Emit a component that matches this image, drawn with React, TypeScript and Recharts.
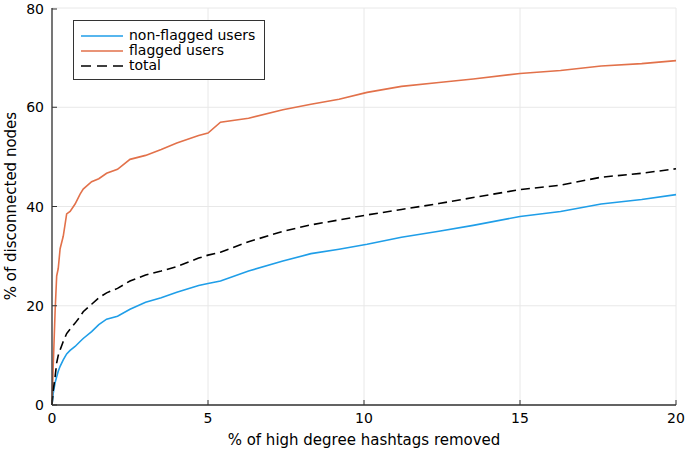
import React from 'react';
import { LineChart, Line, XAxis, YAxis, CartesianGrid } from 'recharts';

const hashtagsRemoved = [0, 0.04, 0.1, 0.15, 0.2, 0.26, 0.36, 0.47, 0.58, 0.74, 0.9, 1.0, 1.27, 1.5, 1.75, 2.1, 2.5, 3.0, 3.5, 4.0, 4.7, 5.0, 5.4, 6.3, 7.4, 8.3, 9.2, 10.1, 11.2, 12.4, 13.5, 15.0, 16.3, 17.6, 18.9, 20];
const nonFlagged = [0, 2.4, 4.5, 5.7, 6.8, 7.8, 9.1, 10.3, 11.0, 11.8, 12.8, 13.4, 14.8, 16.2, 17.3, 17.9, 19.3, 20.7, 21.6, 22.7, 24.1, 24.5, 25.0, 27.0, 29.0, 30.5, 31.4, 32.4, 33.8, 35.0, 36.2, 38.0, 39.0, 40.5, 41.4, 42.4];
const flagged = [0, 8, 19, 26, 27.5, 31.5, 34, 38.5, 39, 40.5, 42.5, 43.5, 45, 45.6, 46.7, 47.5, 49.5, 50.3, 51.5, 52.8, 54.3, 54.8, 57.0, 57.8, 59.5, 60.6, 61.6, 63.0, 64.2, 65.0, 65.7, 66.8, 67.4, 68.3, 68.8, 69.4];
const total = [0, 3, 5.7, 8.5, 10, 11.1, 12.8, 14.4, 15.3, 16.5, 17.8, 18.8, 20.3, 21.6, 22.6, 23.5, 25.0, 26.2, 27.0, 27.9, 29.6, 30.2, 30.8, 32.9, 35.0, 36.3, 37.3, 38.3, 39.4, 40.6, 41.8, 43.4, 44.3, 45.9, 46.7, 47.6];

const xTicks = [0, 5, 10, 15, 20];
const yTicks = [0, 20, 40, 60, 80];

const series = [
  { key: 'nonFlagged', name: 'non-flagged users', color: '#1f9ee8', dash: undefined },
  { key: 'flagged', name: 'flagged users', color: '#e2714a', dash: undefined },
  { key: 'total', name: 'total', color: '#000000', dash: '9 5' },
];

const data = hashtagsRemoved.map((x, i) => ({
  x,
  nonFlagged: nonFlagged[i],
  flagged: flagged[i],
  total: total[i],
}));

const FONT = 'DejaVu Sans, sans-serif';
const AXIS = '#333333';

const XTick = (props: any) => {
  const { x, y, payload } = props;
  const axisY = y - 8;
  return (
    <g>
      <line x1={x} x2={x} y1={axisY} y2={axisY - 5} stroke={AXIS} strokeWidth={1} />
      <text x={x} y={axisY + 18} textAnchor="middle" fontSize={14} fontFamily={FONT} fill="#000">
        {payload.value}
      </text>
    </g>
  );
};

const YTick = (props: any) => {
  const { x, y, payload } = props;
  const axisX = x + 8;
  return (
    <g>
      <line x1={axisX} x2={axisX + 5} y1={y} y2={y} stroke={AXIS} strokeWidth={1} />
      <text x={axisX - 8} y={y + 5} textAnchor="end" fontSize={14} fontFamily={FONT} fill="#000">
        {payload.value}
      </text>
    </g>
  );
};

// legend drawn as an overlay box in the upper left of the plot
const LegendBox = () => (
  <div
    style={{
      position: 'absolute',
      left: 73,
      top: 20,
      width: 192,
      height: 60,
      boxSizing: 'border-box',
      border: `1.3px solid ${AXIS}`,
      background: '#fff',
      padding: '7px 0 0 7px',
      fontFamily: FONT,
      fontSize: 14,
    }}
  >
    {series.map((s) => (
      <div key={s.key} style={{ display: 'flex', alignItems: 'center', height: 15 }}>
        <svg width={42} height={4} style={{ marginRight: 6 }}>
          <line x1={0} x2={42} y1={2} y2={2} stroke={s.color} strokeWidth={1.6} strokeDasharray={s.dash ? '10 6' : undefined} />
        </svg>
        <span style={{ lineHeight: '15px', color: '#000' }}>{s.name}</span>
      </div>
    ))}
  </div>
);

export default function App() {
  return (
    <div style={{ position: 'absolute', left: 0, top: 0, width: 685, height: 450, background: '#fff' }}>
      <LineChart width={685} height={450} data={data} margin={{ top: 8, right: 9, bottom: 0, left: 0 }}>
        <CartesianGrid stroke="#e8e8e8" strokeWidth={1} />
        <XAxis
          dataKey="x"
          type="number"
          domain={[0, 20]}
          ticks={xTicks}
          height={45}
          tickSize={0}
          tickMargin={8}
          tickLine={false}
          axisLine={{ stroke: AXIS, strokeWidth: 1.3 }}
          tick={<XTick />}
          label={() => (
            <text x={364} y={445} textAnchor="middle" fontSize={15} fontFamily={FONT} fill="#000">
              % of high degree hashtags removed
            </text>
          )}
        />
        <YAxis
          type="number"
          domain={[0, 80]}
          ticks={yTicks}
          width={52}
          tickSize={0}
          tickMargin={8}
          tickLine={false}
          axisLine={{ stroke: AXIS, strokeWidth: 1.3 }}
          tick={<YTick />}
          label={() => (
            <text
              x={16}
              y={206}
              transform="rotate(-90, 16, 206)"
              textAnchor="middle"
              fontSize={15}
              fontFamily={FONT}
              fill="#000"
            >
              % of disconnected nodes
            </text>
          )}
        />
        {series.map((s) => (
          <Line
            key={s.key}
            dataKey={s.key}
            name={s.name}
            type="linear"
            stroke={s.color}
            strokeWidth={1.6}
            strokeDasharray={s.dash}
            dot={false}
            activeDot={false}
            isAnimationActive={false}
          />
        ))}
      </LineChart>
      <LegendBox />
    </div>
  );
}
